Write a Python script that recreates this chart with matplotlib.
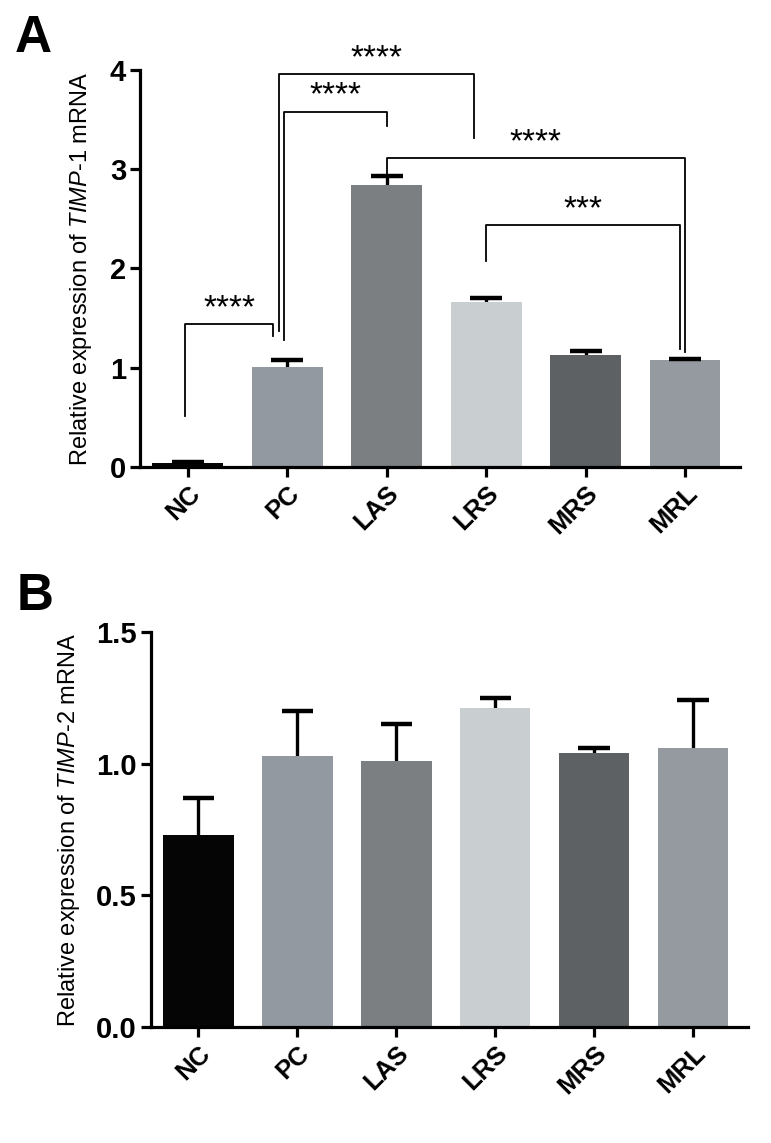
import numpy as np
import matplotlib
matplotlib.use('Agg')
import matplotlib.pyplot as plt

plt.rcParams['font.family'] = ['Liberation Sans', 'DejaVu Sans']
plt.rcParams['mathtext.fontset'] = 'custom'
plt.rcParams['mathtext.rm'] = 'Liberation Sans'
plt.rcParams['mathtext.it'] = 'Liberation Sans:italic'

groups = ['NC', 'PC', 'LAS', 'LRS', 'MRS', 'MRL']
colors = ['#050505', '#9399a1', '#7b7f82', '#c9ced1', '#5d6164', '#949aa0']

# panel A - TIMP-1
timp1_mean = [0.04, 1.01, 2.84, 1.66, 1.13, 1.08]
timp1_err = [0.01, 0.07, 0.09, 0.04, 0.04, 0.01]

# panel B - TIMP-2
timp2_mean = [0.73, 1.03, 1.01, 1.21, 1.04, 1.06]
timp2_err = [0.14, 0.17, 0.14, 0.04, 0.02, 0.18]

# brackets: x left, y left end, x right, y right end, y top, stars
brackets_a = [
    (-0.03, 0.51, 0.86, 1.32, 1.44, '****'),
    (0.92, 1.37, 2.88, 3.31, 3.96, '****'),
    (0.97, 1.28, 2.00, 3.44, 3.58, '****'),
    (2.00, 2.94, 5.00, 1.16, 3.11, '****'),
    (3.00, 2.08, 4.95, 1.19, 2.44, '***'),
]


def draw_bars(ax, mean, err, ylim, yticks, ticklabels, ylabel, lab_x):
    x = np.arange(len(groups))
    ax.bar(x, mean, width=0.71, color=colors, zorder=2)
    top = np.array(mean) + np.array(err)
    ax.vlines(x, np.array(mean) - 0.02 * ylim, top, color='black', lw=2.4, zorder=1)
    ax.hlines(top, x - 0.16, x + 0.16, color='black', lw=3.2, zorder=3)
    ax.set_xlim(-0.48, 5.55)
    ax.set_ylim(0, ylim)
    ax.set_yticks(yticks)
    ax.set_yticklabels(ticklabels, fontsize=21, fontweight='bold')
    ax.set_xticks(x)
    ax.set_xticklabels(groups, rotation=45, ha='right', rotation_mode='anchor',
                       fontsize=18.5, fontweight='bold')
    for s in ['top', 'right']:
        ax.spines[s].set_visible(False)
    for s in ['left', 'bottom']:
        ax.spines[s].set_linewidth(2.3)
    ax.tick_params(width=2.3, length=7, pad=3)
    ax.set_ylabel(ylabel, fontsize=17)
    ax.yaxis.set_label_coords(lab_x, 0.5)


fig = plt.figure(figsize=(7.71, 11.43), dpi=100)

ax1 = fig.add_axes([0.1816, 0.5914, 0.778, 0.3474])
draw_bars(ax1, timp1_mean, timp1_err, 4, [0, 1, 2, 3, 4], ['0', '1', '2', '3', '4'],
          'Relative expression of $\\mathit{TIMP}$-$\\mathit{1}$ mRNA', -0.077)
for xl, yl, xr, yr, yt, lab in brackets_a:
    ax1.plot([xl, xl, xr, xr], [yl, yt, yt, yr], color='black', lw=1.3, zorder=4)
    ax1.text((xl + xr) / 2, yt + 0.0, lab, ha='center', va='bottom', fontsize=24)

ax2 = fig.add_axes([0.1958, 0.1015, 0.774, 0.3456])
draw_bars(ax2, timp2_mean, timp2_err, 1.5, [0, 0.5, 1.0, 1.5], ['0.0', '0.5', '1.0', '1.5'],
          'Relative expression of $\\mathit{TIMP}$-2 mRNA', -0.116)

fig.text(0.019, 0.966, 'A', fontsize=37, fontweight='bold', va='center')
fig.text(0.022, 0.478, 'B', fontsize=37, fontweight='bold', va='center')

plt.savefig('out.png', dpi=100)
